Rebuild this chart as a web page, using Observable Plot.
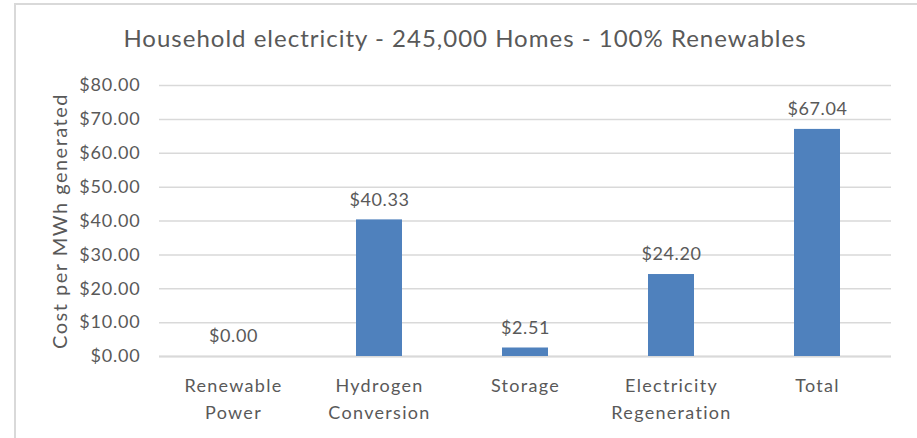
<!DOCTYPE html>
<html><head><meta charset="utf-8">
<script src="https://cdn.jsdelivr.net/npm/d3@7"></script>
<script src="https://cdn.jsdelivr.net/npm/@observablehq/plot@0.6"></script>
<style>
body{margin:0;background:#fff;font-family:Lato,"Open Sans",sans-serif;}
#wrap{position:relative;width:917px;height:438px;overflow:hidden;}
#frame{position:absolute;left:14px;top:3px;width:920px;height:440px;border-left:2px solid #d9d9d9;border-top:2px solid #d9d9d9;box-sizing:border-box;}
#title{position:absolute;left:0;top:24px;width:930px;text-align:center;font-size:24px;line-height:1.2;letter-spacing:1px;color:#595959;}
#chart{position:absolute;left:0;top:70px;}
#chart svg .ytick text{letter-spacing:0.8px;}
#chart svg .xtick text{letter-spacing:1.3px;}
#chart svg .vlabel text{letter-spacing:0.6px;}
#chart svg .ylab text{letter-spacing:1.5px;}
</style></head>
<body>
<div id="wrap"><div id="frame"></div><div id="title">Household electricity - 245,000 Homes - 100% Renewables</div><div id="chart"></div></div>
<script>
const categories = ["Renewable\nPower", "Hydrogen\nConversion", "Storage", "Electricity\nRegeneration", "Total"];
const values = [0.00, 40.33, 2.51, 24.20, 67.04];
const yTicks = [0, 10, 20, 30, 40, 50, 60, 70, 80];
const yLabel = "Cost per MWh generated";

const data = categories.map((c, i) => ({cat: c, value: values[i]}));
const fmt = d => "$" + d.toFixed(2);
const textColor = "#595959";

const plot = Plot.plot({
  width: 917,
  height: 368,
  marginTop: 15,
  marginBottom: 82,
  marginLeft: 159,
  marginRight: 26,
  style: {fontFamily: "Lato, 'Open Sans', sans-serif", color: textColor, background: "transparent"},
  x: {domain: categories, paddingInner: 0.686, paddingOuter: 0.343, label: null},
  y: {domain: [0, 80], ticks: yTicks, label: null},
  marks: [
    Plot.gridY(yTicks, {stroke: "#d9d9d9", strokeOpacity: 1, strokeWidth: 1.5}),
    Plot.ruleY([0], {stroke: "#d9d9d9", strokeWidth: 2}),
    Plot.barY(data, {x: "cat", y: "value", fill: "#4f81bd"}),
    Plot.text(data, {x: "cat", y: "value", text: d => fmt(d.value), dy: -20, fontSize: 18, fill: textColor, className: "vlabel"}),
    Plot.axisY(yTicks, {tickSize: 0, tickPadding: 19, tickFormat: fmt, fontSize: 18, fill: textColor, label: null, className: "ytick"}),
    Plot.axisX({tickSize: 0, tickPadding: 16, fontSize: 18, lineHeight: 1.5, fill: textColor, label: null, className: "xtick"}),
    Plot.text([yLabel], {frameAnchor: "left", textAnchor: "middle", dx: -99, rotate: -90, fontSize: 20, fill: textColor, text: d => d, className: "ylab"})
  ]
});
document.getElementById("chart").appendChild(plot);
</script>
</body></html>
